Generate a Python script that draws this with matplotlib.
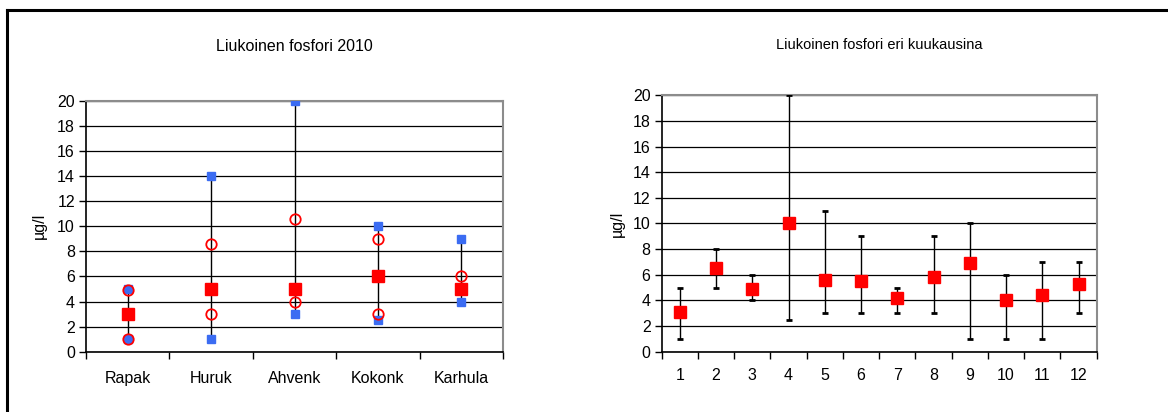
import numpy as np
import matplotlib
matplotlib.use("Agg")
import matplotlib.pyplot as plt
from matplotlib.lines import Line2D

plt.rcParams['font.family'] = ['Liberation Sans', 'DejaVu Sans']

# Liukoinen fosfori 2010 per station
stations = ['Rapak', 'Huruk', 'Ahvenk', 'Kokonk', 'Karhula']
st_max = [5, 14, 20, 10, 9]
st_min = [1, 1, 3, 2.5, 4]
st_p_hi = [4.9, 8.6, 10.6, 9, 6]
st_p_lo = [1, 3, 4, 3, 5]
st_mean = [3, 5, 5, 6, 5]

# Monthly values
months = ['1', '2', '3', '4', '5', '6', '7', '8', '9', '10', '11', '12']
m_mean = [3.1, 6.5, 4.9, 10, 5.6, 5.5, 4.2, 5.8, 6.9, 4.0, 4.4, 5.3]
m_min = [1, 5, 4, 2.5, 3, 3, 3, 3, 1, 1, 1, 3]
m_max = [5, 8, 6, 20, 11, 9, 5, 9, 10, 6, 7, 7]

W, H = 1168, 412
fig = plt.figure(figsize=(W / 100, H / 100), dpi=100)

def px_axes(x0, y0, x1, y1):
    return fig.add_axes([x0 / W, 1 - y1 / H, (x1 - x0) / W, (y1 - y0) / H])

def style(ax, n):
    ax.set_ylim(0, 20)
    ax.set_yticks(np.arange(0, 21, 2))
    ax.set_xlim(-0.5, n - 0.5)
    ax.set_xticks(np.arange(n + 1) - 0.5)
    ax.set_xticklabels([])
    ax.grid(axis='y', color='black', lw=0.9, zorder=0)
    ax.set_axisbelow(True)
    for s in ['top', 'right']:
        ax.spines[s].set_color('#8c8c8c')
        ax.spines[s].set_linewidth(1.5)
    for s in ['left', 'bottom']:
        ax.spines[s].set_color('black')
        ax.spines[s].set_linewidth(1.2)
    ax.tick_params(axis='both', which='major', direction='out', length=5,
                   width=1, labelsize=11.5, colors='black')
    ax.tick_params(axis='y', pad=3)
    ax.set_ylabel('µg/l', fontsize=11.5, labelpad=6)

# left chart
ax1 = px_axes(86, 100.7, 503, 351.7)
style(ax1, len(stations))
x = np.arange(len(stations))
ax1.set_xticks(x, minor=True)
ax1.set_xticklabels(stations, minor=True)
ax1.tick_params(axis='x', which='minor', length=0, pad=14, labelsize=11.5)
ax1.vlines(x, st_min, st_max, color='black', lw=1, zorder=2)
ax1.plot(x, st_max, 's', color='#3b6cf2', ms=6, zorder=3)
ax1.plot(x, st_min, 's', color='#3b6cf2', ms=6, zorder=3)
ax1.plot(x, st_mean, 's', color='#ff0000', ms=8.5, zorder=4)
ax1.plot(x, st_p_hi, 'o', mfc='none', mec='#ff0000', mew=1.3, ms=7.5, zorder=5)
ax1.plot(x, st_p_lo, 'o', mfc='none', mec='#ff0000', mew=1.3, ms=7.5, zorder=5)
ax1.set_title('Liukoinen fosfori 2010', fontsize=11.5, pad=0, y=1.2)
ax1.yaxis.set_label_coords(-0.095, 0.5)

# right chart
ax2 = px_axes(661.7, 95.3, 1096.7, 351.7)
style(ax2, len(months))
xm = np.arange(len(months))
ax2.set_xticks(xm, minor=True)
ax2.set_xticklabels(months, minor=True)
ax2.tick_params(axis='x', which='minor', length=0, pad=12, labelsize=11.5)
m_mean = np.array(m_mean)
err = [m_mean - np.array(m_min), np.array(m_max) - m_mean]
ax2.errorbar(xm, m_mean, yerr=err, fmt='none', ecolor='black', elinewidth=1,
             capsize=2, capthick=2, zorder=3)
ax2.plot(xm, m_mean, 's', color='#ff0000', ms=8.5, zorder=4)
ax2.set_title('Liukoinen fosfori eri kuukausina', fontsize=10.5, pad=0, y=1.18)
ax2.yaxis.set_label_coords(-0.085, 0.5)

# frame lines on the top and left edges
fig.add_artist(Line2D([7 / W, 1], [1 - 10 / H, 1 - 10 / H], color='black', lw=2.2))
fig.add_artist(Line2D([7 / W, 7 / W], [0, 1 - 10 / H], color='black', lw=2.2))

fig.savefig('out.png', dpi=100)
